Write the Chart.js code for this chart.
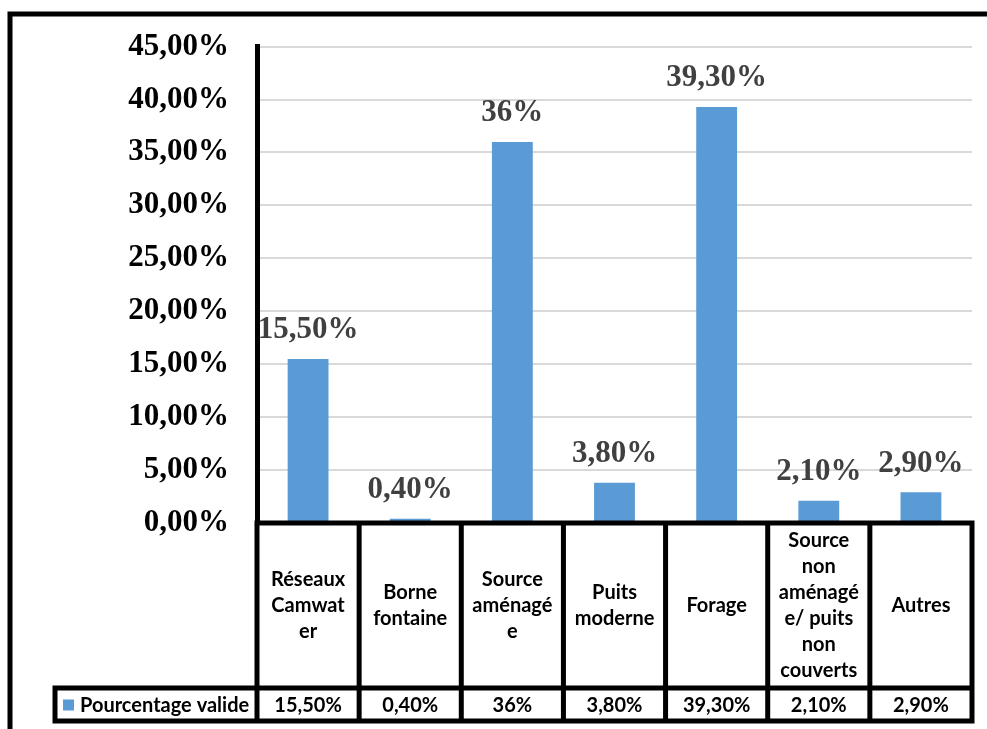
<!DOCTYPE html>
<html>
<head>
<meta charset="utf-8">
<script src="https://cdn.jsdelivr.net/npm/chart.js@4.4.1/dist/chart.umd.min.js"></script>
<style>
  body { margin: 0; background: #fff; }
  canvas { display: block; }
</style>
</head>
<body>
<canvas id="chart" width="987" height="729"></canvas>
<script>
// categories (wrapped the same way as in the data table cells)
const categories = [
    ["Réseaux", "Camwat", "er"],
    ["Borne", "fontaine"],
    ["Source", "aménagé", "e"],
    ["Puits", "moderne"],
    ["Forage"],
    ["Source", "non", "aménagé", "e/ puits", "non", "couverts"],
    ["Autres"]
];
const values = [15.5, 0.4, 36, 3.8, 39.3, 2.1, 2.9];
const seriesName = "Pourcentage valide";
const yMax = 45;
const yStep = 5;

const barColor = "#5b9bd5";

// "15,50%" style, but whole numbers stay short ("36%")
function fmtValue(v) {
    return Number.isInteger(v) ? v + "%" : v.toFixed(2).replace(".", ",") + "%";
}

// value labels above each bar
const barLabels = {
    id: "barLabels",
    afterDatasetsDraw(chart) {
        const ctx = chart.ctx;
        const meta = chart.getDatasetMeta(0);
        ctx.save();
        ctx.font = "bold 31px 'Liberation Serif'";
        ctx.fillStyle = "#404040";
        ctx.textAlign = "center";
        ctx.textBaseline = "bottom";
        meta.data.forEach((bar, i) => {
            ctx.fillText(fmtValue(values[i]), bar.x, bar.y - 13);
        });
        ctx.restore();
    }
};

// data table under the plot + outer frame
const dataTable = {
    id: "dataTable",
    afterDraw(chart) {
        const ctx = chart.ctx;
        const area = chart.chartArea;
        const n = categories.length;
        const w = (area.right - area.left) / n;
        const top = chart.scales.y.getPixelForValue(0);
        const mid = 688;
        const bottom = 721;
        const legendLeft = 55;

        ctx.save();
        ctx.strokeStyle = "#000";
        ctx.lineWidth = 5;
        ctx.lineCap = "square";

        ctx.beginPath();
        ctx.moveTo(area.left, top);
        ctx.lineTo(area.right, top);
        ctx.moveTo(legendLeft, mid);
        ctx.lineTo(area.right, mid);
        ctx.moveTo(legendLeft, bottom);
        ctx.lineTo(area.right, bottom);
        for (let i = 0; i <= n; i++) {
            const x = area.left + i * w;
            ctx.moveTo(x, top);
            ctx.lineTo(x, bottom);
        }
        ctx.moveTo(legendLeft, mid);
        ctx.lineTo(legendLeft, bottom);
        ctx.stroke();

        // category names
        ctx.fillStyle = "#000";
        ctx.font = "bold 20px Lato";
        ctx.textAlign = "center";
        ctx.textBaseline = "middle";
        const lh = 26;
        categories.forEach((lines, i) => {
            const cx = area.left + (i + 0.5) * w;
            const cy = (top + mid) / 2 - (lines.length - 1) * lh / 2;
            lines.forEach((t, k) => ctx.fillText(t, cx, cy + k * lh));
        });

        // value row
        const rowY = (mid + bottom) / 2 + 1;
        values.forEach((v, i) => {
            ctx.fillText(fmtValue(v), area.left + (i + 0.5) * w, rowY);
        });

        // legend key
        ctx.fillStyle = barColor;
        ctx.fillRect(63, rowY - 6, 11, 11);
        ctx.fillStyle = "#000";
        ctx.textAlign = "left";
        ctx.fillText(seriesName, 80, rowY);

        // chart frame
        ctx.lineWidth = 5;
        ctx.beginPath();
        ctx.moveTo(10, 729);
        ctx.lineTo(10, 14);
        ctx.lineTo(987, 14);
        ctx.stroke();
        ctx.restore();
    }
};

const ctx = document.getElementById("chart").getContext("2d");
new Chart(ctx, {
    type: "bar",
    data: {
        labels: categories,
        datasets: [{
            label: seriesName,
            data: values,
            backgroundColor: barColor,
            barPercentage: 0.4,
            categoryPercentage: 1
        }]
    },
    options: {
        responsive: false,
        animation: false,
        layout: {
            padding: { top: 45, bottom: 206, right: 15, left: 0 }
        },
        plugins: {
            legend: { display: false },
            tooltip: { enabled: false }
        },
        scales: {
            x: {
                display: false,
                offset: true
            },
            y: {
                min: 0,
                max: yMax,
                afterFit(axis) {
                    axis.width = 257;
                },
                ticks: {
                    stepSize: yStep,
                    color: "#000",
                    padding: 28,
                    font: { family: "'Liberation Serif'", size: 31, weight: "bold" },
                    callback: v => v.toFixed(2).replace(".", ",") + "%"
                },
                grid: {
                    color: "#d9d9d9",
                    lineWidth: 2,
                    drawTicks: false
                },
                border: {
                    color: "#000",
                    width: 5
                }
            }
        }
    },
    plugins: [barLabels, dataTable]
});
</script>
</body>
</html>
